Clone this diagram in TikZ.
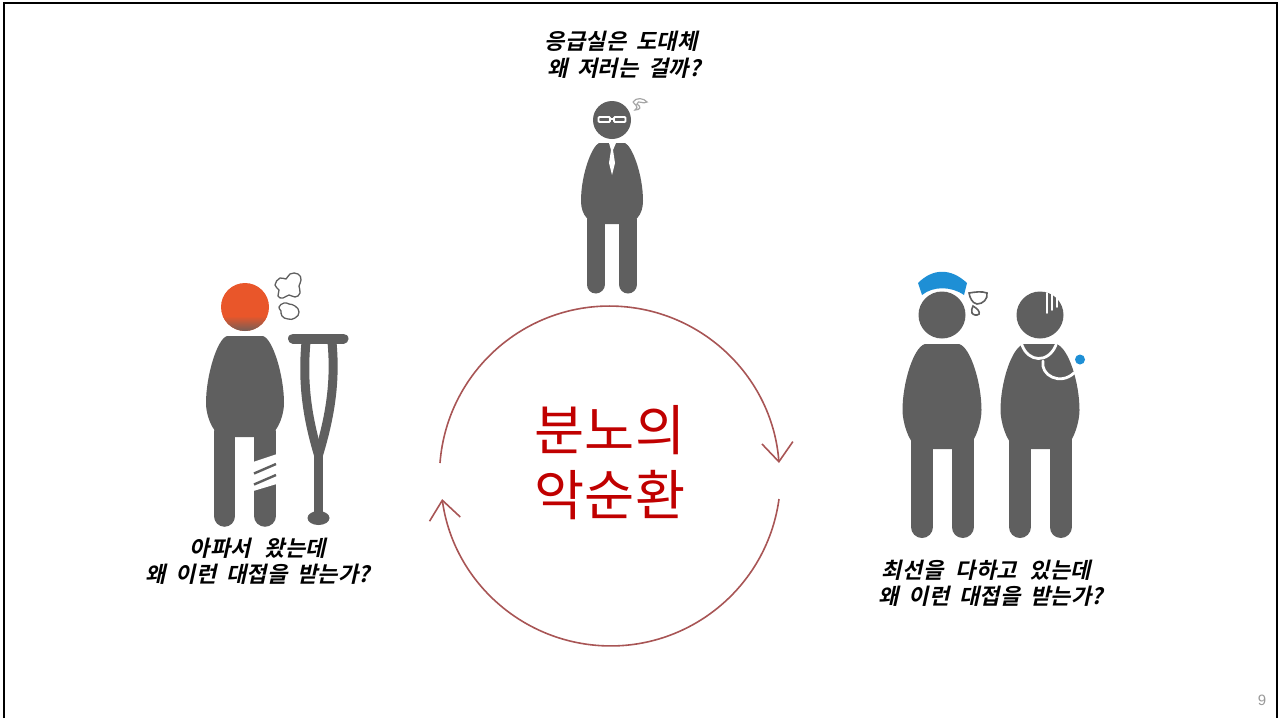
\documentclass[tikz,border=0pt]{standalone}
\usepackage{fontspec}
\usetikzlibrary{arrows.meta}
\newfontfamily\capfont[FakeSlant=0.22,LetterSpace=1.5,WordSpace=1.8]{Noto Sans CJK KR Bold}
\newfontfamily\bigfont{Noto Sans CJK KR}
\setsansfont{Liberation Sans}
\definecolor{figgray}{HTML}{5F5F5F}
\definecolor{ringred}{HTML}{A85555}
\definecolor{bigred}{HTML}{C00000}
\definecolor{capblue}{HTML}{1E8FD5}
\definecolor{hotorange}{HTML}{E9562A}
\tikzset{
    caption/.style={font=\capfont\fontsize{22}{26.5}\selectfont,align=center,inner sep=0pt},
    ringarrow/.style={ringred,line width=1.6,-{Straight Barb[length=19,width=31,line width=1.6]}},
    leg/.style={figgray,line cap=round},
    puff/.style={draw=figgray,line width=1.3,fill=white},
    cutline/.style={white,line width=2.8,line cap=round}
}
% (cx, top y, widest y, bottom y, half width, half top)
\newcommand{\torso}[6]{
    \fill[figgray] ({#1-#6},#2) .. controls ({#1-#5+11},{#2+3}) and ({#1-#5},{#3-27}) .. ({#1-#5},#3)
        .. controls ({#1-#5},{#3+14}) and ({#1-#5+8},#4) .. ({#1-#5+20},#4) -- ({#1+#5-20},#4)
        .. controls ({#1+#5-8},#4) and ({#1+#5},{#3+14}) .. ({#1+#5},#3)
        .. controls ({#1+#5},{#3-27}) and ({#1+#5-11},{#2+3}) .. ({#1+#6},#2) -- cycle;
}
\begin{document}
\begin{tikzpicture}[x=1pt,y=-1pt]
    \useasboundingbox (0,0) rectangle (1281,718);
    \draw[black,line width=2.6] (4,718) -- (4,3) -- (1277,3) -- (1277,718);

    % ring
    \coordinate (ringA) at (440,463);
    \coordinate (ringB) at (779,499);
    \draw[ringarrow] (ringA) arc[start angle=184.4,end angle=355.6,radius=170];
    \draw[ringarrow] (ringB) arc[start angle=7.8,end angle=172.2,radius=170];
    \node[font=\bigfont\fontsize{54.5}{65}\selectfont,text=bigred,align=center,inner sep=0pt] (title) at (610,463) {분노의\\악순환};

    % captions
    \node[caption] (topcap) at (621,55) {응급실은 도대체\\ \hspace{6pt}왜 저러는 걸까?};
    \node[caption] (leftcap) at (258,561) {아파서\hspace{4pt} 왔는데\\왜 이런 대접을 받는가?};
    \node[caption] (rightcap) at (991,583) {최선을\hspace{3pt} 다하고\hspace{3pt} 있는데\rule{9pt}{0pt}\\왜 이런 대접을 받는가?};
    \node[font=\sffamily\fontsize{15}{15}\selectfont,text=gray!80,inner sep=0pt] (pagenum) at (1262,700) {9};

    % top man
    \fill[figgray] (612,120) circle (19);
    \torso{612}{143}{201}{224}{31}{13}
    \draw[leg,line width=18] (595.5,220) -- (595.5,284.5);
    \draw[leg,line width=18] (628,220) -- (628,284.5);
    \fill[white] (609,143) -- (616,143) -- (613,150) -- (615,163) -- (612,175) -- (609,163) -- (611,150) -- cycle;
    \draw[white,line width=1.8,rounded corners=1] (598.5,117) rectangle (610,122);
    \draw[white,line width=1.8,rounded corners=1] (614,117) rectangle (625.5,122);
    \draw[white,line width=1.8] (610,119) -- (614,119);
    \draw[gray!70,line width=1.2] (633,102) .. controls (636,97) and (644,98) .. (647,102) .. controls (643,105) and (638,99) .. (637,104) .. controls (642,107) and (640,110) .. (635,110) .. controls (640,107) and (634,104) .. (633,102);

    % patient
    \fill[hotorange] (245,307) circle (24);
    \begin{scope}
        \clip (245,307) circle (24);
        \shade[top color=hotorange,bottom color=figgray!85!hotorange] (221,316) rectangle (269,331);
    \end{scope}
    \torso{245}{336}{403}{437}{39}{18}
    \draw[leg,line width=21.5] (224.5,432) -- (224.5,516);
    \draw[leg,line width=21.5] (265,432) -- (265,516);
    \fill[white] (250,463) -- (280,453) -- (280,483) -- (250,492) -- cycle;
    \draw[figgray,line width=2.4] (254,473.5) -- (276,464);
    \draw[figgray,line width=2.4] (254,484.5) -- (276,475);
    % crutch
    \draw[leg,line width=10] (293,338.5) -- (343.5,338.5);
    \draw[figgray,line width=9] (306,342) .. controls (302,385) and (308,420) .. (318.5,455);
    \draw[figgray,line width=9] (332,342) .. controls (336,385) and (329,420) .. (318.5,455);
    \draw[figgray,line width=9] (318.5,448) -- (318.5,516);
    \fill[figgray] (318.5,518) ellipse (11 and 7);
    \draw[puff] plot[smooth cycle,tension=0.9] coordinates {(275,285) (280,278) (286,279) (290,274) (298,274) (301,280) (299,286) (300,293) (295,297) (289,295) (283,298) (278,296) (279,290)};
    \draw[puff] plot[smooth cycle,tension=0.9] coordinates {(279,307) (284,303) (289,304) (295,306) (299,312) (295,318) (288,319) (282,316) (281,311)};

    % nurse
    \fill[capblue] (918,283) .. controls (933,268) and (951,268) .. (967,283) -- (964,295) .. controls (951,286) and (933,286) .. (922,295) -- cycle;
    \fill[figgray] (942,315) circle (23.5);
    \torso{942}{344}{410}{449}{39.5}{17}
    \draw[leg,line width=22] (922,440) -- (922,527);
    \draw[leg,line width=22] (962.5,440) -- (962.5,527);
    \draw[puff,line width=1.6] (969,293) .. controls (975,292) and (982,291) .. (987,293) .. controls (988,299) and (983,304) .. (977,304) .. controls (972,303) and (970,298) .. (969,293) -- cycle;
    \draw[puff,line width=1.6] (973,306) .. controls (978,309) and (980,312) .. (979,314) .. controls (977,316) and (973,315) .. (972,313) .. controls (971,311) and (972,308) .. (973,306) -- cycle;

    % doctor
    \fill[figgray] (1040,315) circle (23.5);
    \draw[cutline,line width=1.6] (1047,293) -- (1047,313);
    \draw[cutline,line width=1.6] (1052,294) -- (1052,310);
    \draw[cutline,line width=1.6] (1057,298) -- (1057,307);
    \torso{1040}{344}{410}{449}{39.5}{16}
    \draw[leg,line width=22] (1020,440) -- (1020,527);
    \draw[leg,line width=22] (1060.5,440) -- (1060.5,527);
    \draw[cutline] (1022,345) .. controls (1028,362) and (1048,364) .. (1056,345);
    \draw[cutline] (1043,361) .. controls (1040,375) and (1060,386) .. (1074,373);
    \fill[capblue] (1080,359.5) circle (5);
\end{tikzpicture}
\end{document}
